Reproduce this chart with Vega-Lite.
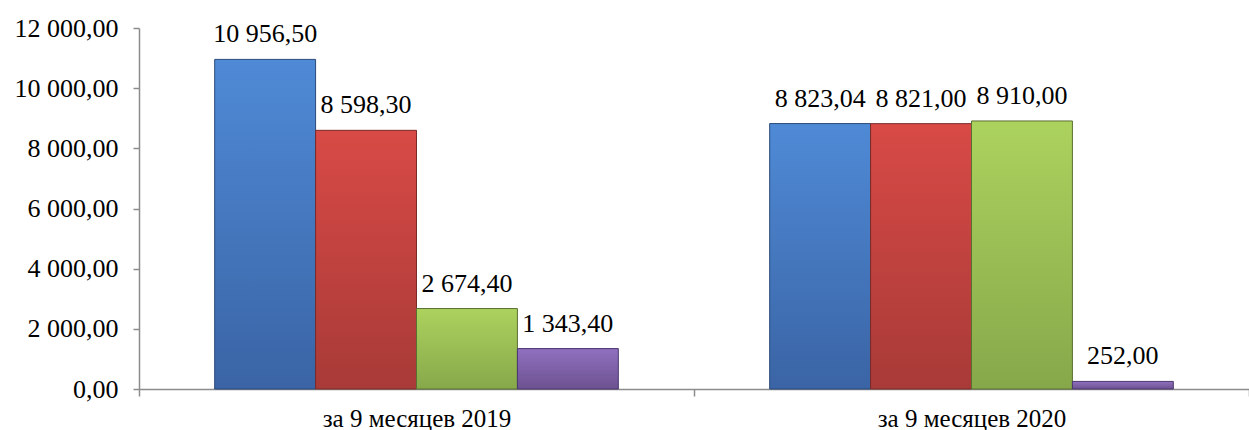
{
  "$schema": "https://vega.github.io/schema/vega-lite/v6.json",
  "width": 1110,
  "height": 361,
  "autosize": {"type": "none"},
  "padding": {"left": 139, "top": 28, "right": 0, "bottom": 41},
  "config": {
    "locale": {"number": {"decimal": ",", "thousands": "\u00a0", "grouping": [3], "currency": ["", ""]}},
    "view": {"stroke": null},
    "font": "Times New Roman, Liberation Serif, serif"
  },
  "data": {"values": [
    {"period": "за 9 месяцев 2019", "series": "s1", "value": 10956.50},
    {"period": "за 9 месяцев 2019", "series": "s2", "value": 8598.30},
    {"period": "за 9 месяцев 2019", "series": "s3", "value": 2674.40},
    {"period": "за 9 месяцев 2019", "series": "s4", "value": 1343.40},
    {"period": "за 9 месяцев 2020", "series": "s1", "value": 8823.04},
    {"period": "за 9 месяцев 2020", "series": "s2", "value": 8821.00},
    {"period": "за 9 месяцев 2020", "series": "s3", "value": 8910.00},
    {"period": "за 9 месяцев 2020", "series": "s4", "value": 252.00}
  ]},
  "encoding": {
    "x": {"field": "period", "type": "nominal", "sort": null,
      "scale": {"paddingInner": 0, "paddingOuter": 0},
      "axis": {"title": null, "labelAngle": 0, "labelFontSize": 25, "labelColor": "#000000", "labelPadding": 30, "labelBaseline": "alphabetic", "labelLimit": 0,
        "domainColor": "#8c8c8c", "domainWidth": 1.5, "tickColor": "#8c8c8c", "tickWidth": 1.5, "tickSize": 7, "tickBand": "extent", "labelFont": "Times New Roman, Liberation Serif, serif"}},
    "xOffset": {"field": "series", "type": "nominal", "scale": {"domain": ["s1", "s2", "s3", "s4"], "paddingInner": 0, "paddingOuter": 0.75}},
    "y": {"field": "value", "type": "quantitative",
      "scale": {"domain": [0, 12000], "nice": false},
      "axis": {"title": null, "values": [0, 2000, 4000, 6000, 8000, 10000, 12000], "format": ",.2f", "grid": false,
        "labelFontSize": 26, "labelColor": "#000000", "labelPadding": 15, "labelFont": "Times New Roman, Liberation Serif, serif",
        "domainColor": "#8c8c8c", "domainWidth": 1.5, "tickColor": "#8c8c8c", "tickWidth": 1.5, "tickSize": 6}}
  },
  "layer": [
    {"transform": [{"filter": "datum.series === 's1'"}],
     "mark": {"type": "bar", "stroke": "#2a4a7a", "strokeWidth": 1,
       "color": {"gradient": "linear", "x1": 0, "y1": 0, "x2": 0, "y2": 1, "stops": [{"offset": 0, "color": "#4f8ad6"}, {"offset": 1, "color": "#3a64a5"}]}}},
    {"transform": [{"filter": "datum.series === 's2'"}],
     "mark": {"type": "bar", "stroke": "#7a2a28", "strokeWidth": 1,
       "color": {"gradient": "linear", "x1": 0, "y1": 0, "x2": 0, "y2": 1, "stops": [{"offset": 0, "color": "#d84a46"}, {"offset": 1, "color": "#a83a37"}]}}},
    {"transform": [{"filter": "datum.series === 's3'"}],
     "mark": {"type": "bar", "stroke": "#5a7030", "strokeWidth": 1,
       "color": {"gradient": "linear", "x1": 0, "y1": 0, "x2": 0, "y2": 1, "stops": [{"offset": 0, "color": "#acd25e"}, {"offset": 1, "color": "#87a84a"}]}}},
    {"transform": [{"filter": "datum.series === 's4'"}],
     "mark": {"type": "bar", "stroke": "#4a3670", "strokeWidth": 1,
       "color": {"gradient": "linear", "x1": 0, "y1": 0, "x2": 0, "y2": 1, "stops": [{"offset": 0, "color": "#9070c0"}, {"offset": 1, "color": "#6c5290"}]}}},
    {"mark": {"type": "text", "baseline": "alphabetic", "dy": -17, "fontSize": 26, "font": "Times New Roman, Liberation Serif, serif", "color": "#000000"},
     "encoding": {"text": {"field": "value", "type": "quantitative", "format": ",.2f"}}}
  ]
}
